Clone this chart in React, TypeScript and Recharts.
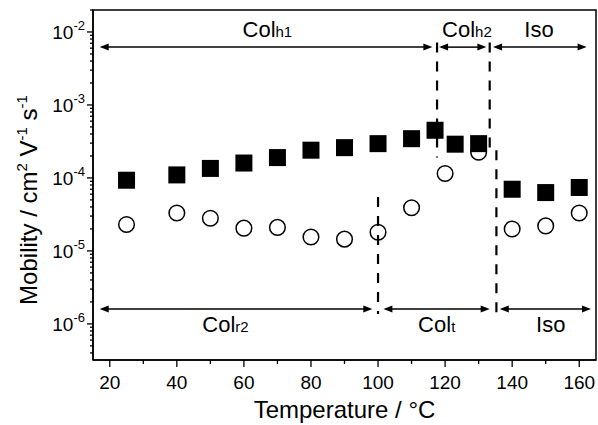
import { ScatterChart, Scatter, XAxis, YAxis, ReferenceLine, ReferenceArea } from 'recharts';

const FONT = '"Liberation Sans", Arial, sans-serif';

// filled squares
const squareT = [25, 40, 50, 60, 70, 80, 90, 100, 110, 117, 123, 130, 140, 150, 160];
const squareMu = [9.3e-5, 1.1e-4, 1.35e-4, 1.6e-4, 1.9e-4, 2.4e-4, 2.6e-4, 2.95e-4, 3.45e-4, 4.5e-4, 2.9e-4, 2.95e-4, 7e-5, 6.3e-5, 7.4e-5];

// open circles
const circleT = [25, 40, 50, 60, 70, 80, 90, 100, 110, 120, 130, 140, 150, 160];
const circleMu = [2.3e-5, 3.3e-5, 2.8e-5, 2.05e-5, 2.1e-5, 1.55e-5, 1.45e-5, 1.8e-5, 3.9e-5, 1.15e-4, 2.25e-4, 2e-5, 2.2e-5, 3.3e-5];

// phase arrows (top row: heating, bottom row: cooling)
const topName = ['Col', 'Col', 'Iso'];
const topSub = ['h1', 'h2', ''];
const topFrom = [17, 118.2, 134.3];
const topTo = [116.2, 132.3, 162.2];
const topLabelT = [67, 126.5, 148];
const topMu = 6.2e-3;

const botName = ['Col', 'Col', 'Iso'];
const botSub = ['r2', 't', ''];
const botFrom = [17, 101.6, 136.3];
const botTo = [98.3, 133.3, 163.5];
const botLabelT = [54.5, 117.5, 151.5];
const botMu = 1.6e-6;

// dashed transition lines: temperature, upper and lower mobility
const dashT = [117.6, 133.3, 135.3, 100];
const dashTop = [7.2e-3, 7.2e-3, 2.4e-4, 5.5e-5];
const dashBottom = [1.9e-4, 2.6e-4, 1.37e-6, 1.37e-6];

const xMajor = [20, 40, 60, 80, 100, 120, 140, 160];
const xMinor = [30, 50, 70, 90, 110, 130, 150];
const yMajor = [1e-6, 1e-5, 1e-4, 1e-3, 1e-2];
const yMinor: number[] = [];
[-7, -6, -5, -4, -3, -2].forEach((e) => {
  [2, 3, 4, 5, 6, 7, 8, 9].forEach((m) => {
    const v = m * Math.pow(10, e);
    if (v > 3.2e-7 && v <= 2e-2) yMinor.push(v);
  });
});

const squares = squareT.map((t, i) => ({ x: t, y: squareMu[i] }));
const circles = circleT.map((t, i) => ({ x: t, y: circleMu[i] }));
const labels = [
  ...topName.map((n, i) => ({ x: topLabelT[i], y: topMu, name: n, sub: topSub[i], row: 'top' })),
  ...botName.map((n, i) => ({ x: botLabelT[i], y: botMu, name: n, sub: botSub[i], row: 'bottom' })),
];

function XTick({ x, y, payload }: any) {
  const major = xMajor.includes(payload.value);
  return (
    <g>
      <line x1={x} x2={x} y1={y} y2={y + (major ? 7 : 4)} stroke="#000" strokeWidth={1.3} />
      {major && (
        <text x={x} y={y + 29} textAnchor="middle" fontSize={19} fontFamily={FONT} fill="#000">
          {payload.value}
        </text>
      )}
    </g>
  );
}

function YTick({ x, y, payload }: any) {
  const major = yMajor.includes(payload.value);
  const exp = Math.round(Math.log10(payload.value));
  return (
    <g>
      <line x1={x} x2={x - (major ? 6 : 3)} y1={y} y2={y} stroke="#000" strokeWidth={1.3} />
      {major && (
        <text x={x - 8} y={y + 7} textAnchor="end" fontSize={19} fontFamily={FONT} fill="#000">
          10<tspan dy={-9} fontSize={13}>{String(exp)}</tspan>
        </text>
      )}
    </g>
  );
}

function YTitle() {
  return (
    <text transform="rotate(-90)" x={-200} y={37} textAnchor="middle" fontSize={24} fontFamily={FONT} fill="#000">
      Mobility / cm
      <tspan dy={-10} fontSize={15}>2</tspan>
      <tspan dy={10}>{' V'}</tspan>
      <tspan dy={-10} fontSize={15}>-1</tspan>
      <tspan dy={10}>{' s'}</tspan>
      <tspan dy={-10} fontSize={15}>-1</tspan>
    </text>
  );
}

const arrowShape = (p: any) => {
  const a = Math.min(p.x1, p.x2);
  const b = Math.max(p.x1, p.x2);
  const y = p.y1;
  const L = 9;
  const W = 3.5;
  return (
    <g>
      <line x1={a + L - 1} x2={b - L + 1} y1={y} y2={y} stroke="#000" strokeWidth={1.5} />
      <polygon points={`${a},${y} ${a + L},${y - W} ${a + L},${y + W}`} fill="#000" />
      <polygon points={`${b},${y} ${b - L},${y - W} ${b - L},${y + W}`} fill="#000" />
    </g>
  );
};

const Square = ({ cx, cy }: any) => <rect x={cx - 8.5} y={cy - 8.5} width={17} height={17} fill="#000" />;
const Ring = ({ cx, cy }: any) => <circle cx={cx} cy={cy} r={7.8} fill="none" stroke="#000" strokeWidth={1.5} />;
const PhaseLabel = ({ cx, cy, payload }: any) => (
  <text x={cx} y={cy + (payload.row === 'top' ? -10 : 23)} textAnchor="middle" fontSize={22} fontFamily={FONT} fill="#000">
    {payload.name}
    {payload.sub && <tspan fontSize={15}>{payload.sub}</tspan>}
  </text>
);

export default function App() {
  return (
    <div style={{ position: 'absolute', left: 0, top: 0, background: '#fff' }}>
      <ScatterChart width={598} height={425} margin={{ top: 10, right: 2, bottom: 0, left: 0 }}>
        <XAxis
          type="number"
          dataKey="x"
          domain={[15, 165]}
          allowDataOverflow
          ticks={[...xMajor, ...xMinor].sort((a, b) => a - b)}
          interval={0}
          tick={<XTick />}
          tickLine={false}
          tickSize={0}
          tickMargin={0}
          height={65}
          axisLine={{ stroke: '#000', strokeWidth: 1.5 }}
          label={{ value: 'Temperature / °C', position: 'insideBottom', offset: 7, fontSize: 24, fill: '#000', fontFamily: FONT }}
        />
        <YAxis
          type="number"
          dataKey="y"
          scale="log"
          domain={[3.2e-7, 2e-2]}
          allowDataOverflow
          ticks={[...yMajor, ...yMinor].sort((a, b) => a - b)}
          interval={0}
          tick={<YTick />}
          tickLine={false}
          tickSize={0}
          tickMargin={0}
          width={93}
          axisLine={{ stroke: '#000', strokeWidth: 1.5 }}
          label={<YTitle />}
        />
        <ReferenceArea x1={15} x2={165} y1={3.2e-7} y2={2e-2} fill="none" stroke="#000" strokeWidth={1.5} />
        {dashT.map((t, i) => (
          <ReferenceLine
            key={'d' + i}
            segment={[{ x: t, y: dashTop[i] }, { x: t, y: dashBottom[i] }]}
            stroke="#000"
            strokeWidth={2.2}
            strokeDasharray="10 9"
          />
        ))}
        {topFrom.map((f, i) => (
          <ReferenceLine key={'t' + i} segment={[{ x: f, y: topMu }, { x: topTo[i], y: topMu }]} shape={arrowShape} />
        ))}
        {botFrom.map((f, i) => (
          <ReferenceLine key={'b' + i} segment={[{ x: f, y: botMu }, { x: botTo[i], y: botMu }]} shape={arrowShape} />
        ))}
        <Scatter data={circles} shape={<Ring />} isAnimationActive={false} />
        <Scatter data={squares} shape={<Square />} isAnimationActive={false} />
        <Scatter data={labels} shape={<PhaseLabel />} isAnimationActive={false} />
      </ScatterChart>
    </div>
  );
}
